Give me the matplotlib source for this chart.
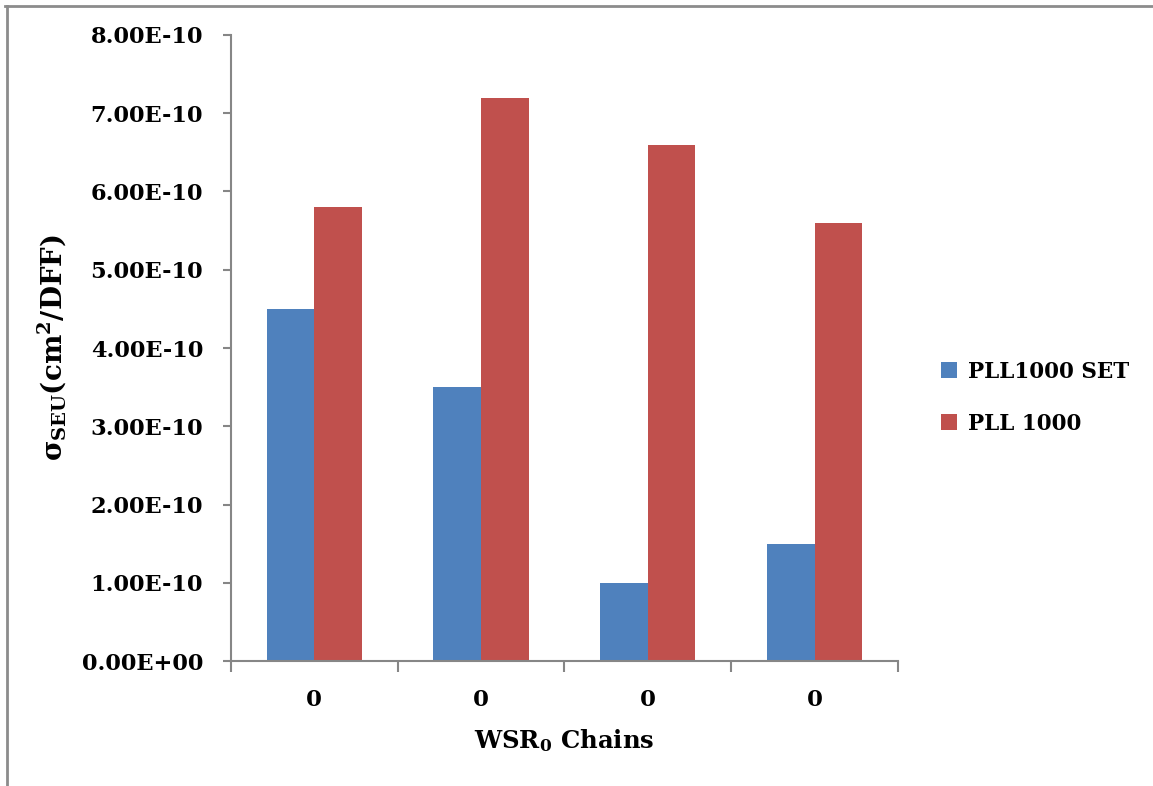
import matplotlib
matplotlib.use('Agg')
import matplotlib.pyplot as plt
import numpy as np
from matplotlib.lines import Line2D

# data (cm^2/DFF)
groups = ['0', '0', '0', '0']
pll_set = [4.5e-10, 3.5e-10, 1.0e-10, 1.5e-10]
pll = [5.8e-10, 7.2e-10, 6.6e-10, 5.6e-10]
series_names = ['PLL1000 SET', 'PLL 1000']
yticks = [0, 1e-10, 2e-10, 3e-10, 4e-10, 5e-10, 6e-10, 7e-10, 8e-10]

plt.rcParams['font.family'] = 'DejaVu Serif'
plt.rcParams['font.weight'] = 'bold'
plt.rcParams['mathtext.fontset'] = 'custom'
plt.rcParams['mathtext.rm'] = 'DejaVu Serif:bold'
plt.rcParams['mathtext.it'] = 'DejaVu Serif:bold'
plt.rcParams['mathtext.bf'] = 'DejaVu Serif:bold'

axis_gray = '#868686'
blue = '#4F81BD'
red = '#C0504D'

fig = plt.figure(figsize=(11.53, 7.86), dpi=100)
ax = fig.add_axes([0.2003, 0.159, 0.5785, 0.7965])

x = np.arange(len(groups)) + 0.5
w = 1 / 3.5
b1 = ax.bar(x - w / 2, pll_set, width=w, color=blue, label=series_names[0])
b2 = ax.bar(x + w / 2, pll, width=w, color=red, label=series_names[1])

ax.set_xlim(0, len(groups))
ax.set_ylim(0, 8e-10)
ax.set_yticks(yticks)
ax.yaxis.set_major_formatter(plt.FuncFormatter(lambda v, p: f'{v:.2E}'))

# boundary tick marks, labels at group centres
ax.set_xticks(np.arange(len(groups) + 1))
ax.set_xticklabels([])
ax.set_xticks(x, minor=True)
ax.set_xticklabels(groups, minor=True)
ax.tick_params(axis='x', which='major', length=8, width=1.5, color=axis_gray, direction='out')
ax.tick_params(axis='x', which='minor', length=0, pad=20, labelsize=16.5)
ax.tick_params(axis='y', length=6, width=1.5, color=axis_gray, direction='out', pad=14, labelsize=16.2)

for s in ['top', 'right']:
    ax.spines[s].set_visible(False)
for s in ['left', 'bottom']:
    ax.spines[s].set_color(axis_gray)
    ax.spines[s].set_linewidth(1.5)

ax.set_ylabel(r'$\sigma_{SEU}$(cm$^{2}$/DFF)', fontsize=20, fontweight='bold')
ax.yaxis.set_label_coords(-0.243, 0.5)
ax.set_xlabel(r'WSR$_{0}$ Chains', fontsize=17.5, fontweight='bold', labelpad=12)

fig.legend(handles=[b1, b2], loc='center left', bbox_to_anchor=(0.799, 0.494),
           frameon=False, fontsize=15.5, handlelength=0.75, handleheight=0.75,
           handletextpad=0.5, labelspacing=1.4)

# outer chart frame (top and left edges only visible)
fig.add_artist(Line2D([5 / 1153, 1], [1 - 5.5 / 786, 1 - 5.5 / 786], color='#8c8c8c', lw=2))
fig.add_artist(Line2D([6.5 / 1153, 6.5 / 1153], [0, 1 - 5.5 / 786], color='#8c8c8c', lw=2))

fig.savefig('out.png', dpi=100)
